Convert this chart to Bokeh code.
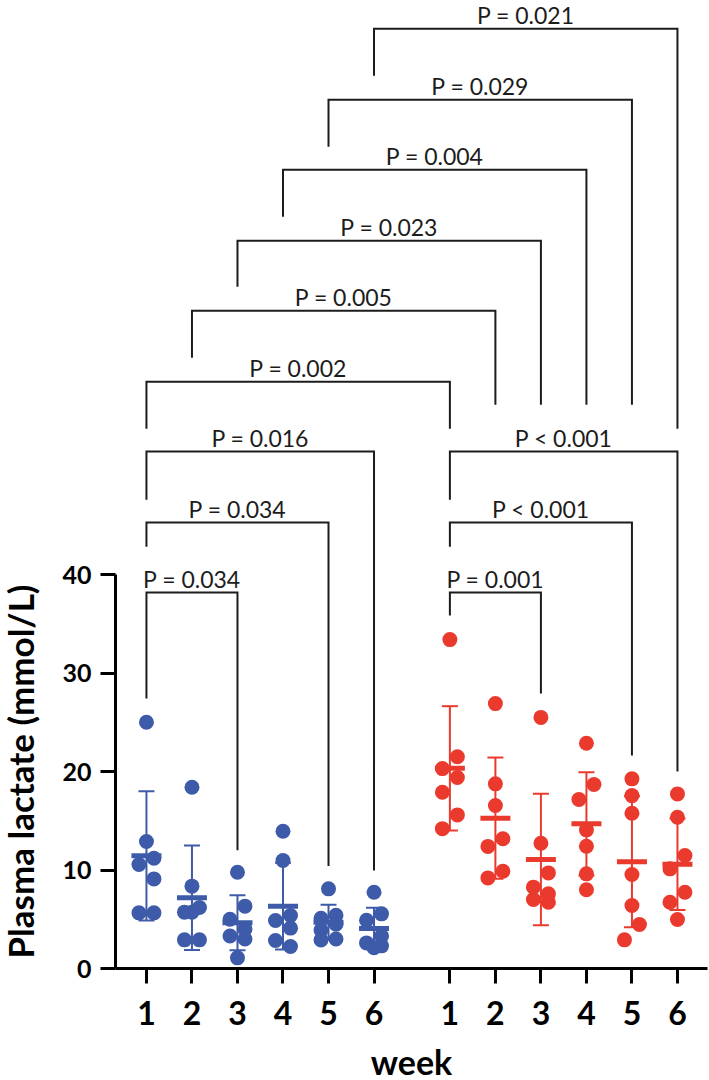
import numpy as np
from bokeh.plotting import figure
from bokeh.layouts import row
from bokeh.models import Range1d, FixedTicker
from bokeh.embed import file_html
from bokeh.resources import INLINE
from bokeh.core.properties import value

# ---------------------------------------------------------------- data
weeks = [1, 2, 3, 4, 5, 6]
week_labels = ["1", "2", "3", "4", "5", "6"]

# Plasma lactate (mmol/L), seven animals per week
blue_lactate = [
    [25.0, 12.9, 11.2, 10.56, 9.1, 5.65, 5.65],
    [18.4, 8.36, 6.2, 5.72, 5.72, 2.91, 2.91],
    [9.78, 6.33, 5.0, 4.0, 3.3, 3.0, 1.08],
    [13.94, 10.96, 5.38, 4.87, 4.1, 2.84, 2.23],
    [8.09, 5.4, 5.1, 4.5, 3.9, 3.0, 2.9],
    [7.75, 5.55, 4.9, 3.3, 2.6, 2.3, 2.1],
]
red_lactate = [
    [33.4, 21.5, 20.3, 19.4, 17.9, 15.6, 14.2],
    [26.9, 18.75, 16.55, 13.17, 12.4, 9.88, 9.2],
    [25.5, 12.72, 9.71, 8.26, 7.58, 7.0, 6.73],
    [22.87, 18.68, 17.16, 14.08, 12.42, 9.61, 7.99],
    [19.26, 17.56, 15.77, 9.54, 6.4, 4.47, 2.91],
    [17.73, 15.36, 11.47, 10.12, 7.75, 6.73, 4.97],
]

y_ticks = [0, 10, 20, 30, 40]
y_title = "Plasma lactate (mmol/L)"
x_title = "week"

# pairwise comparisons: (group, week) -> (group, week); group 0 = blue, 1 = red
cmp_from_group = [0, 0, 0, 0, 0, 0, 0, 0, 0, 1, 1, 1]
cmp_from_week = [1, 1, 1, 1, 2, 3, 4, 5, 6, 1, 1, 1]
cmp_to_group = [0, 0, 0, 1, 1, 1, 1, 1, 1, 1, 1, 1]
cmp_to_week = [3, 5, 6, 1, 2, 3, 4, 5, 6, 3, 5, 6]
cmp_label = ["P = 0.034", "P = 0.034", "P = 0.016", "P = 0.002", "P = 0.005",
             "P = 0.023", "P = 0.004", "P = 0.029", "P = 0.021",
             "P = 0.001", "P < 0.001", "P < 0.001"]
# bracket height and where its two legs stop (axis units)
cmp_level = [38.17, 45.28, 52.49, 59.59, 66.80, 73.91, 81.12, 88.22, 95.43,
             38.17, 45.28, 52.49]
cmp_left_end = [27.41, 42.84, 47.61, 54.82, 62.03, 69.24, 76.35, 83.45, 90.66,
                35.84, 42.84, 47.61]
cmp_right_end = [12.0, 10.4, 9.95, 54.82, 57.26, 57.26, 57.26, 57.26, 54.82,
                 27.92, 21.62, 20.0]

# ---------------------------------------------------------------- layout
W, H = 709, 1080
TITLE_W = 44                 # strip holding the vertical axis title
FRAME_W, FRAME_H = 592, 968
BORDER_L = 115 - TITLE_W
BORDER_R = W - TITLE_W - BORDER_L - FRAME_W
BORDER_B = H - FRAME_H
X_START, X_END = -2.04, 36.98
Y_START, Y_END = 0.0, 98.3
STEP, GROUP_SHIFT = 3, 20

px_per_x = FRAME_W / (X_END - X_START)
px_per_y = FRAME_H / (Y_END - Y_START)

BLUE = "#3E5BAA"
RED = "#EA3A2E"
INK = "#1c1c1c"
FONT = "Lato"

DOT = 15.0         # marker diameter, px
SIDE = 7.5         # sideways shift of crowded points, px
RUN_GAP = 1.6      # values closer than this share a row of alternating points
MEAN_HALF = 15.0   # px
CAP_HALF = 8.0     # px
LABEL_LIFT = 14.0  # px between a bracket and its P value


def xpos(group, week):
    return group * GROUP_SHIFT + STEP * (week - 1)


def spread(vals):
    """Horizontal offsets (x units) so that close points sit side by side."""
    order = sorted(range(len(vals)), key=lambda i: -vals[i])
    runs = []
    for i in order:
        if runs and vals[runs[-1][-1]] - vals[i] < RUN_GAP:
            runs[-1].append(i)
        else:
            runs.append([i])
    offs = [0.0] * len(vals)
    placed = []
    for run in runs:
        if len(run) == 1:
            placed.append((0.0, vals[run[0]] * px_per_y))
            continue
        side = 1
        for i in run:
            y = vals[i] * px_per_y
            cands = [side * SIDE, -side * SIDE, 0.0, 2 * side * SIDE, -2 * side * SIDE]
            best, bestd = cands[0], -1.0
            for c in cands:
                d = min([np.hypot(c - px, y - py) for px, py in placed], default=1e9)
                if d >= 0.5 * DOT:
                    best = c
                    break
                if d > bestd:
                    best, bestd = c, d
            offs[i] = best
            placed.append((best, y))
            side = -side
    return [o / px_per_x for o in offs]


y_range = Range1d(Y_START, Y_END)
p = figure(frame_width=FRAME_W, frame_height=FRAME_H,
           x_range=Range1d(X_START, X_END), y_range=y_range,
           output_backend="svg", toolbar_location=None,
           min_border_left=BORDER_L, min_border_right=BORDER_R,
           min_border_top=0, min_border_bottom=BORDER_B)
p.outline_line_color = None
p.grid.visible = False
p.background_fill_color = "white"
p.border_fill_color = "white"

# ---------------------------------------------------------------- groups
for g, (series, color) in enumerate([(blue_lactate, BLUE), (red_lactate, RED)]):
    px_, py_ = [], []
    ex, e0, e1 = [], [], []
    cx0, cx1, cy = [], [], []
    mx0, mx1, my = [], [], []
    for w, vals in zip(weeks, series):
        x0 = xpos(g, w)
        offs = spread(vals)
        px_ += [x0 + o for o in offs]
        py_ += list(vals)
        m = float(np.mean(vals))
        sd = float(np.std(vals, ddof=1))
        ex.append(x0); e0.append(m - sd); e1.append(m + sd)
        for yy in (m - sd, m + sd):
            cx0.append(x0 - CAP_HALF / px_per_x)
            cx1.append(x0 + CAP_HALF / px_per_x)
            cy.append(yy)
        mx0.append(x0 - MEAN_HALF / px_per_x)
        mx1.append(x0 + MEAN_HALF / px_per_x)
        my.append(m)
    p.segment(x0=ex, y0=e0, x1=ex, y1=e1, line_color=color, line_width=2)
    p.segment(x0=cx0, y0=cy, x1=cx1, y1=cy, line_color=color, line_width=2)
    p.scatter(x=px_, y=py_, size=DOT, fill_color=color, line_color=None)
    p.segment(x0=mx0, y0=my, x1=mx1, y1=my, line_color=color, line_width=5)

# ---------------------------------------------------------------- brackets
bx, by, tx, ty = [], [], [], []
for fg, fw, tg, tw, lvl, le, re in zip(cmp_from_group, cmp_from_week, cmp_to_group,
                                       cmp_to_week, cmp_level, cmp_left_end, cmp_right_end):
    xa, xb = xpos(fg, fw), xpos(tg, tw)
    bx.append([xa, xa, xb, xb])
    by.append([le, lvl, lvl, re])
    tx.append((xa + xb) / 2)
    ty.append(lvl + LABEL_LIFT / px_per_y)
p.multi_line(xs=bx, ys=by, line_color=INK, line_width=2, line_join="miter")
p.text(x=tx, y=ty, text=cmp_label, text_font=value(FONT), text_font_size="23px",
       text_color=INK, text_align="center", text_baseline="alphabetic")

# ---------------------------------------------------------------- axes
yax = p.yaxis[0]
yax.bounds = (0, 40)
yax.ticker = FixedTicker(ticks=y_ticks)
xax = p.xaxis[0]
tick_pos = [xpos(g, w) for g in (0, 1) for w in weeks]
xax.ticker = FixedTicker(ticks=tick_pos)
xax.major_label_overrides = {xpos(g, w): lab for g in (0, 1) for w, lab in zip(weeks, week_labels)}
for ax in (xax, yax):
    ax.axis_line_width = 3
    ax.axis_line_color = "black"
    ax.major_tick_line_width = 3
    ax.major_tick_line_color = "black"
    ax.major_tick_out = 15
    ax.major_tick_in = 0
    ax.minor_tick_line_color = None
    ax.major_label_text_font = FONT
    ax.major_label_text_font_style = "bold"
    ax.major_label_text_color = "black"
yax.major_label_text_font_size = "25px"
yax.major_label_standoff = 9
xax.major_label_text_font_size = "32px"
xax.major_label_standoff = 17
xax.axis_label = x_title
xax.axis_label_text_font = FONT
xax.axis_label_text_font_style = "bold"
xax.axis_label_text_font_size = "34px"
xax.axis_label_text_color = "black"
xax.axis_label_standoff = 13

# ---------------------------------------------------------------- vertical title strip
# shares the y range and frame height, so the title centres on the 0-40 axis span
t = figure(frame_width=TITLE_W, frame_height=FRAME_H,
           x_range=Range1d(0, TITLE_W), y_range=y_range,
           x_axis_type=None, y_axis_type=None, output_backend="svg",
           toolbar_location=None, min_border=0, min_border_bottom=BORDER_B)
t.outline_line_color = None
t.grid.visible = False
t.background_fill_color = "white"
t.border_fill_color = "white"
t.text(x=[19], y=[sum(yax.bounds) / 2], text=[y_title], angle=np.pi / 2,
       text_font=value(FONT), text_font_style="bold", text_font_size="35px",
       text_color="black", text_align="center", text_baseline="middle")

layout = row(t, p, spacing=0)
open("out.html", "w").write(file_html(layout, INLINE))
